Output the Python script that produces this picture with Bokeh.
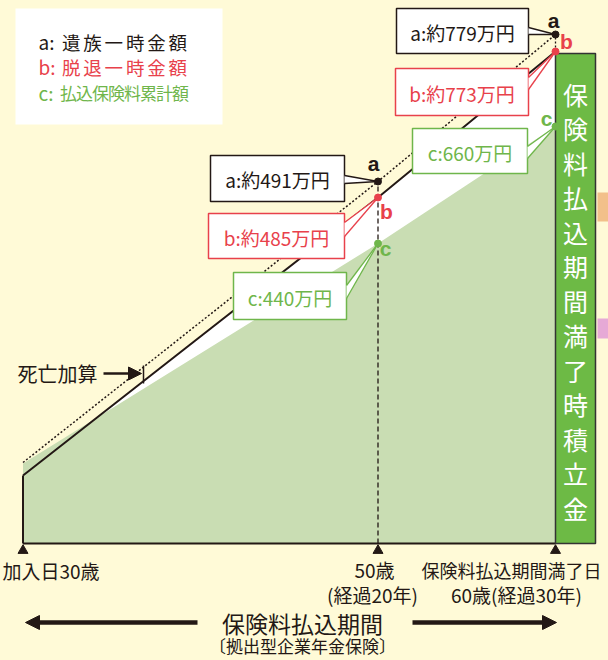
from bokeh.plotting import figure
from bokeh.models import Range1d, Arrow, NormalHead, GlobalInlineStyleSheet
from bokeh.core.properties import value
from bokeh.embed import file_html
from bokeh.resources import INLINE

# ---------------- data ----------------
years = [0, 20, 30]                      # elapsed years (age 30, 50, 60)
death_line = [81, 362, 509]              # a: schematic height of 遺族一時金額
surrender_line = [68, 346, 492]          # b: schematic height of 脱退一時金額
paid_line = [80, 300, 417]               # c: schematic height of 払込保険料累計額
a_values = [491, 779]                    # 万円 at 20y, 30y
b_values = [485, 773]
c_values = [440, 660]
legend_keys = ["a:", "b:", "c:"]
legend_labels = ["遺族一時金額", "脱退一時金額", "払込保険料累計額"]
bar_label = "保険料払込期間満了時積立金"
tick_labels = ["加入日30歳", "50歳", "保険料払込期間満了日"]
sub_labels = ["(経過20年)", "60歳(経過30年)"]
period_label = "保険料払込期間"
plan_label = "〔拠出型企業年金保険〕"
death_add_label = "死亡加算"

# ---------------- style ----------------
BG = "#fffad7"
INK = "#231815"
RED = "#e8414b"
GREEN = "#6fb64b"
AREA = "#c9ddb3"
BAR = "#6dba45"
JP = "Noto Sans CJK JP"
W, H = 608, 660

X0, KX = 22.5, 17.75
def X(px):
    return (px - X0) / KX
def Y(py):
    return 543 - py
def fs(n):
    return f"{n:.1f}px"

p = figure(width=W, height=H, x_range=Range1d(X(0), X(608)), y_range=Range1d(Y(660), Y(0)),
           toolbar_location=None, output_backend="svg", min_border=0,
           x_axis_location=None, y_axis_location=None,
           background_fill_color=BG, border_fill_color=BG, outline_line_color=None)
p.grid.visible = False
p.stylesheets = [GlobalInlineStyleSheet(css=f"body{{background:{BG};}}")]

def txt(x, y, s, size, color, align="center", bold=False, font=JP):
    p.text(x=[x], y=[y], text=[s], text_font=value(font), text_font_size=fs(size),
           text_color=color, text_align=align, text_baseline="middle",
           text_font_style="bold" if bold else "normal")

# legend box (justified lines)
p.quad(left=X(15), right=X(222), top=Y(8), bottom=Y(124), fill_color="white", line_color=None)
for key, lab, col, yy in zip(legend_keys, legend_labels, [INK, RED, GREEN], [41, 66, 92]):
    txt(X(38), Y(yy), key, 19, col, align="left")
    pitch = 128.0 / len(lab)
    size = min(18.5, pitch + 1.0)
    p.text(x=[X(60 + pitch * (i + 0.5)) for i in range(len(lab))], y=[Y(yy)] * len(lab), text=list(lab),
           text_font=value(JP), text_font_size=fs(size), text_color=col,
           text_align="center", text_baseline="middle")

# areas
p.patch([years[0]] + years + [years[-1]], [0] + surrender_line + [0], fill_color="white", line_color=None)
p.patch([years[0]] + years + [years[-1]], [0] + paid_line + [0], fill_color=AREA, line_color=None)

# lines
p.line(years, death_line, line_color=INK, line_width=1.5, line_dash="2 2")
p.line(years, surrender_line, line_color=INK, line_width=2)
p.segment(x0=[years[0]], y0=[0], x1=[years[0]], y1=[surrender_line[0]], line_color=INK, line_width=2)
p.segment(x0=[years[0]], y0=[0], x1=[years[-1]], y1=[0], line_color=INK, line_width=2)
p.segment(x0=[years[1]], y0=[0], x1=[years[1]], y1=[death_line[1]], line_color=INK, line_width=1.3, line_dash="5 3")
p.segment(x0=[years[2]], y0=[surrender_line[2]], x1=[years[2]], y1=[death_line[2]], line_color=INK, line_width=1.3, line_dash="2 2")

# green bar
p.quad(left=years[-1], right=X(595), bottom=0, top=Y(53), fill_color=BAR, line_color="#333333", line_width=1.5)
for i, ch in enumerate(bar_label):
    txt(X(575), Y(93 + i * 34.5), ch, 25, "white")

# side blocks at right edge
p.quad(left=X(597), right=X(612), top=Y(192), bottom=Y(221), fill_color="#f2c08a", line_color=None)
p.quad(left=X(597), right=X(612), top=Y(318), bottom=Y(338), fill_color="#e6a9d6", line_color=None)

# callouts
def callout(l, r, t, b, col, label, base, target):
    p.quad(left=X(l), right=X(r), top=Y(t), bottom=Y(b), fill_color="white", line_color=col, line_width=1.5)
    tx, ty = target
    p.patch([X(r), tx, X(r)], [Y(base[0]), ty, Y(base[1])], fill_color="white", line_color=None)
    p.segment(x0=[X(r), X(r)], y0=[Y(base[0]), Y(base[1])], x1=[tx, tx], y1=[ty, ty], line_color=col, line_width=1.3)
    txt(X((l + r) / 2), Y((t + b) / 2 + 1), label, 19, col)

callout(210, 344, 155, 201, INK, f"a:約{a_values[0]}万円", (175, 183), (years[1], death_line[1]))
callout(208, 344, 213, 258, RED, f"b:約{b_values[0]}万円", (222, 236), (years[1], surrender_line[1]))
callout(233, 346, 272, 319, GREEN, f"c:{c_values[0]}万円", (285, 298), (years[1], paid_line[1]))
callout(396, 528, 8, 53, INK, f"a:約{a_values[1]}万円", (27, 34), (years[2], death_line[2]))
callout(395, 528, 68, 115, RED, f"b:約{b_values[1]}万円", (77, 89), (years[2], surrender_line[2]))
callout(412, 527, 128, 173, GREEN, f"c:{c_values[1]}万円", (146, 158), (years[2], paid_line[2]))

# points
p.scatter(years[1:], death_line[1:], size=7, color=INK)
p.scatter(years[1:], surrender_line[1:], size=7, color=RED)
p.scatter(years[1:], paid_line[1:], size=7, color=GREEN)

# point letters
LF = "Liberation Sans"
txt(X(373), Y(163), "a", 21, INK, bold=True, font=LF)
txt(X(386), Y(211), "b", 21, RED, bold=True, font=LF)
txt(X(385), Y(248), "c", 21, GREEN, bold=True, font=LF)
txt(X(553), Y(20), "a", 21, INK, bold=True, font=LF)
txt(X(566), Y(41), "b", 21, RED, bold=True, font=LF)
txt(X(546), Y(118), "c", 21, GREEN, bold=True, font=LF)

# death addition annotation
txt(X(17), Y(373), death_add_label, 20, INK, align="left")
p.add_layout(Arrow(end=NormalHead(size=13, fill_color=INK, line_color=INK), x_start=X(103), y_start=Y(373),
                   x_end=X(141), y_end=Y(373), line_color=INK, line_width=2.5))
p.segment(x0=[X(143)], y0=[Y(365)], x1=[X(143)], y1=[Y(383)], line_color=INK, line_width=1.5)

# ticks
p.scatter(years, [Y(550)] * 3, marker="triangle", size=10, color=INK)
txt(X(2), Y(570), tick_labels[0], 19, INK, align="left")
txt(X(374), Y(569), tick_labels[1], 19, INK)
txt(X(421), Y(569), tick_labels[2], 18, INK, align="left")
txt(X(372), Y(594), sub_labels[0], 19, INK)
txt(X(516), Y(594), sub_labels[1], 19, INK)

# period arrows
txt(X(302), Y(622), period_label, 23, INK)
for xs, xe in [(197, 25), (412, 556)]:
    p.add_layout(Arrow(end=NormalHead(size=14, fill_color=INK, line_color=INK), x_start=X(xs), y_start=Y(622),
                       x_end=X(xe), y_end=Y(622), line_color=INK, line_width=4.5))
txt(X(302), Y(645), plan_label, 17, INK)

open("out.html", "w").write(file_html(p, INLINE))
